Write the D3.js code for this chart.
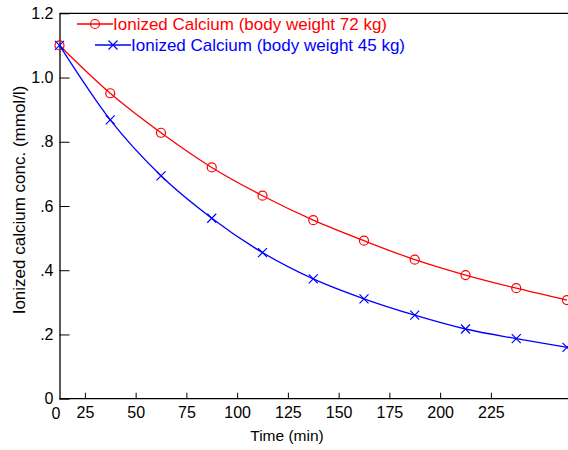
<!DOCTYPE html>
<html>
<head>
<meta charset="utf-8">
<script src="https://cdn.jsdelivr.net/npm/d3@7"></script>
<style>
    body { margin: 0; background: #fff; }
    svg text { font-family: "Liberation Sans", Arial, sans-serif; }
</style>
</head>
<body>
<div id="chart"></div>
<script>
    "use strict";

    // sample times (min) and measured ionized calcium (mmol/l)
    var timeMin = [0, 25, 50, 75, 100, 125, 150, 175, 200, 225, 250];
    var calcium72 = [1.10, 0.951, 0.828, 0.720, 0.632, 0.556, 0.492, 0.433, 0.385, 0.344, 0.307];
    var calcium45 = [1.10, 0.868, 0.694, 0.562, 0.455, 0.373, 0.311, 0.260, 0.217, 0.187, 0.160];

    var seriesNames = ["Ionized Calcium (body weight 72 kg)", "Ionized Calcium (body weight 45 kg)"];
    var timeTicks = [25, 50, 75, 100, 125, 150, 175, 200, 225];
    var concTicks = [0, 0.2, 0.4, 0.6, 0.8, 1.0, 1.2];
    var concTickLabels = ["0", ".2", ".4", ".6", ".8", "1.0", "1.2"];

    var width = 568, height = 450;
    var plotLeft = 59.5, plotRight = 567, plotTop = 13.3, plotBottom = 398.7;

    var svg = d3.select("#chart")
        .append("svg")
        .attr("xmlns", "http://www.w3.org/2000/svg")
        .attr("width", width)
        .attr("height", height);

    var xScale = d3.scaleLinear().domain([0, 250]).range([plotLeft, plotRight]);
    // the printed axis is shifted half a step against the samples
    var xAxisScale = d3.scaleLinear().domain([12.5, 262.5]).range([plotLeft, plotRight]);
    var yScale = d3.scaleLinear().domain([0, 1.2]).range([plotBottom, plotTop]);

    //frame: top line (left and bottom come from the axes)
    svg.append("line")
        .attr("x1", plotLeft).attr("x2", width)
        .attr("y1", plotTop).attr("y2", plotTop)
        .attr("stroke", "#000").attr("stroke-width", 1.3);

    var yAxis = svg.append("g")
        .attr("transform", "translate(" + plotLeft + ",0)")
        .call(d3.axisLeft(yScale)
            .tickValues(concTicks)
            .tickFormat(function (d, i) { return concTickLabels[i]; })
            .tickSizeInner(-10)
            .tickSizeOuter(0)
            .tickPadding(6));

    var xAxis = svg.append("g")
        .attr("transform", "translate(0," + plotBottom + ")")
        .call(d3.axisBottom(xAxisScale)
            .tickValues(timeTicks)
            .tickFormat(d3.format("d"))
            .tickSizeInner(-6)
            .tickSizeOuter(0)
            .tickPadding(8));

    [xAxis, yAxis].forEach(function (g) {
        g.select(".domain").attr("stroke-width", 1.3);
        g.selectAll(".tick line").attr("stroke-width", 1);
        g.selectAll("text").style("font-size", "16px").attr("fill", "#000");
    });
    xAxis.select(".domain").attr("d", "M" + plotLeft + ",0H" + width);

    // "0" at the corner of the time axis
    svg.append("text")
        .attr("x", xScale(0) - 3.5)
        .attr("y", plotBottom + 20)
        .attr("text-anchor", "middle")
        .style("font-size", "16px")
        .text("0");

    //axis titles
    svg.append("text")
        .attr("x", 287)
        .attr("y", 441)
        .attr("text-anchor", "middle")
        .style("font-size", "15.5px")
        .text("Time (min)");

    svg.append("text")
        .attr("transform", "translate(25," + 200 + ") rotate(-90)")
        .attr("text-anchor", "middle")
        .style("font-size", "17px")
        .text("Ionized calcium conc. (mmol/l)");

    var series = [
        {name: seriesNames[0], values: calcium72, color: "#ff0000", marker: "circle"},
        {name: seriesNames[1], values: calcium45, color: "#0000ff", marker: "cross"}
    ];

    var line = d3.line()
        .x(function (d, i) { return xScale(timeMin[i]); })
        .y(function (d) { return yScale(d); })
        .curve(d3.curveMonotoneX);

    function drawMarker(g, type, x, y, color) {
        if (type === "circle") {
            g.append("circle")
                .attr("cx", x).attr("cy", y).attr("r", 4.5)
                .attr("fill", "none").attr("stroke", color).attr("stroke-width", 1.2);
        }
        else {
            var s = 4.5;
            g.append("path")
                .attr("d", "M" + (x - s) + "," + (y - s) + "L" + (x + s) + "," + (y + s) +
                    "M" + (x - s) + "," + (y + s) + "L" + (x + s) + "," + (y - s))
                .attr("fill", "none").attr("stroke", color).attr("stroke-width", 1.2);
        }
    }

    series.forEach(function (s) {
        var g = svg.append("g").attr("class", "series");
        g.append("path")
            .datum(s.values)
            .attr("d", line)
            .attr("fill", "none")
            .attr("stroke", s.color)
            .attr("stroke-width", 1.3);
        s.values.forEach(function (v, i) {
            drawMarker(g, s.marker, xScale(timeMin[i]), yScale(v), s.color);
        });
    });

    //legend
    var legendRows = [
        {x1: 77, x2: 113, y: 24},
        {x1: 95, x2: 131, y: 45}
    ];
    series.forEach(function (s, i) {
        var row = legendRows[i];
        var g = svg.append("g").attr("class", "legend");
        g.append("line")
            .attr("x1", row.x1).attr("x2", row.x2)
            .attr("y1", row.y).attr("y2", row.y)
            .attr("stroke", s.color).attr("stroke-width", 1.3);
        drawMarker(g, s.marker, (row.x1 + row.x2) / 2, row.y, s.color);
        g.append("text")
            .attr("x", row.x2)
            .attr("y", row.y + 6)
            .attr("fill", s.color)
            .style("font-size", "17px")
            .text(s.name);
    });
</script>
</body>
</html>
